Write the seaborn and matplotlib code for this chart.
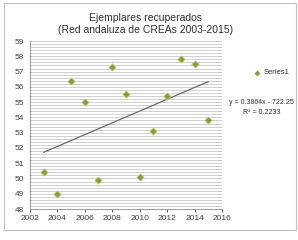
import numpy as np
import matplotlib
matplotlib.use('Agg')
import matplotlib.pyplot as plt
import seaborn as sns
from matplotlib.patches import Rectangle

years = [2003, 2004, 2005, 2006, 2007, 2008, 2009, 2010, 2011, 2012, 2013, 2014, 2015]
recovered = [50.4, 49.0, 56.4, 55.0, 49.9, 57.3, 55.5, 50.1, 53.1, 55.4, 57.8, 57.5, 53.8]
slope = 0.3864
intercept = -722.25
r2 = 0.2233
x_ticks = [2002, 2004, 2006, 2008, 2010, 2012, 2014, 2016]
y_ticks = list(range(48, 60))

sns.set_style('white')
plt.rcParams['font.family'] = ['Liberation Sans', 'DejaVu Sans']

fig = plt.figure(figsize=(2.98, 2.40), dpi=100)
ax = fig.add_axes([0.10, 0.129, 0.645, 0.70])

# dense gridlines like the excel chart
for v in np.arange(48, 59.01, 0.2):
    ax.axhline(v, color='#c8c8c8', lw=0.6, zorder=0)

sns.scatterplot(x=years, y=recovered, ax=ax, marker='D', s=14, color='#8a9a3c',
                edgecolor='#c8d08a', linewidth=0.5, zorder=3, legend=False)

line_x = np.array([years[0], years[-1]])
ax.plot(line_x, slope * line_x + intercept, color='#6a6a6a', lw=0.9, zorder=2)

ax.set_xlim(2002, 2016)
ax.set_ylim(48, 59)
ax.set_xticks(x_ticks)
ax.set_yticks(y_ticks)
ax.tick_params(labelsize=6, length=2, width=0.6, colors='#404040', pad=2)
ax.tick_params(axis='x', direction='out', bottom=True)
for s in ['top', 'right']:
    ax.spines[s].set_visible(False)
for s in ['left', 'bottom']:
    ax.spines[s].set_color('#9a9a9a')
    ax.spines[s].set_linewidth(0.7)

fig.text(0.487, 0.925, 'Ejemplares recuperados', ha='center', va='center', fontsize=7.5, color='#303030')
fig.text(0.487, 0.875, '(Red andaluza de CREAs 2003-2015)', ha='center', va='center', fontsize=7.5, color='#303030')

# legend and trendline equation
fig.add_artist(plt.Line2D([0.862], [0.696], marker='D', ms=3, color='#8a9a3c',
                          markeredgecolor='#c8d08a', markeredgewidth=0.4, transform=fig.transFigure))
fig.text(0.885, 0.696, 'Series1', ha='left', va='center', fontsize=5.5, color='#303030')
fig.text(0.985, 0.575, f'y = {slope}x - {abs(intercept)}', ha='right', va='center', fontsize=5, color='#303030')
fig.text(0.878, 0.533, f'R² = {r2}', ha='center', va='center', fontsize=5, color='#303030')

fig.add_artist(Rectangle((0.013, 0.042), 0.98, 0.945, transform=fig.transFigure,
                         fill=False, edgecolor='#c0c0c0', lw=0.8))

fig.savefig('out.png', dpi=100)
